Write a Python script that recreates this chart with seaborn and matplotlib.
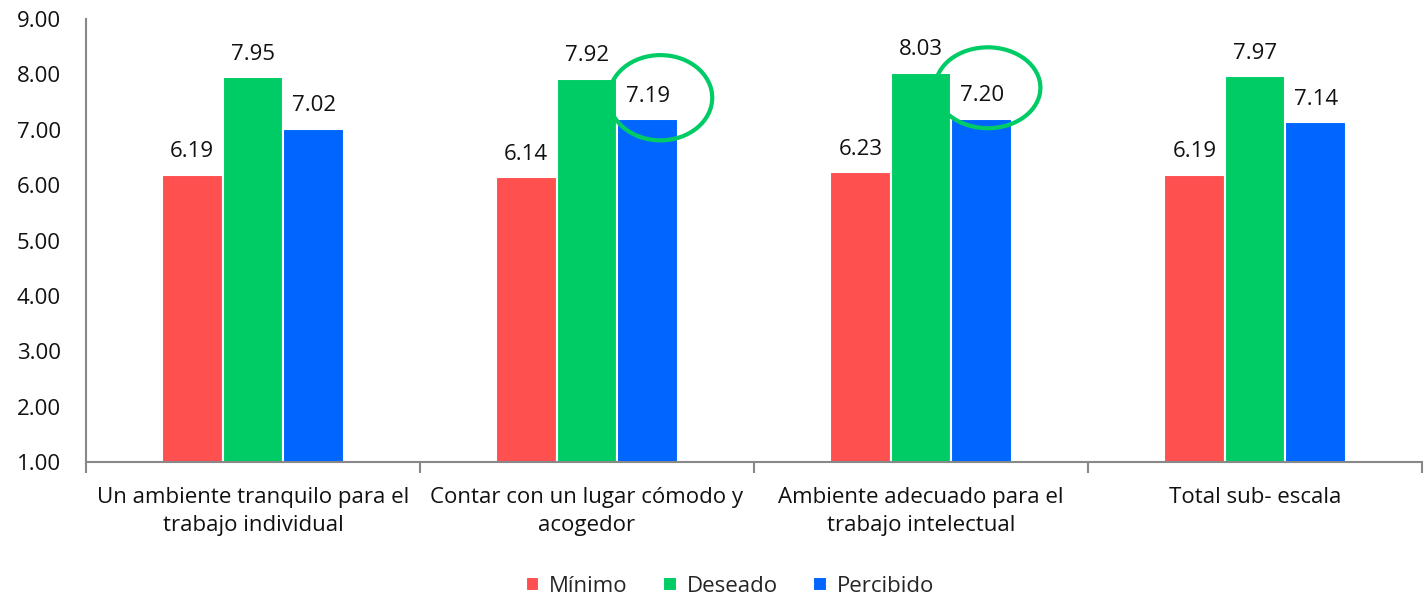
import matplotlib
matplotlib.use("Agg")
import matplotlib.pyplot as plt
import seaborn as sns
import pandas as pd
from matplotlib.patches import Ellipse
from matplotlib.ticker import FixedLocator, NullFormatter

categories = ["Un ambiente tranquilo para el\ntrabajo individual",
              "Contar con un lugar cómodo y\nacogedor",
              "Ambiente adecuado para el\ntrabajo intelectual",
              "Total sub- escala"]
series = ["Mínimo", "Deseado", "Percibido"]
minimo = [6.19, 6.14, 6.23, 6.19]
deseado = [7.95, 7.92, 8.03, 7.97]
percibido = [7.02, 7.19, 7.20, 7.14]
colors = ["#FF5050", "#00CC66", "#0066FF"]
yticks = [1, 2, 3, 4, 5, 6, 7, 8, 9]

rows = []
for s, vals in zip(series, [minimo, deseado, percibido]):
    for c, v in zip(categories, vals):
        rows.append({"cat": c, "serie": s, "valor": v})
df = pd.DataFrame(rows)

sns.set_theme(style="white")
plt.rcParams['font.family'] = ['Open Sans', 'DejaVu Sans']

FS = 16
fig = plt.figure(figsize=(14.28, 5.97), dpi=100)
ax = fig.add_axes([0.0602, 0.2261, 0.9356, 0.7419])

sns.barplot(data=df, x="cat", y="valor", hue="serie", palette=colors,
            width=0.545, ax=ax, edgecolor="white", linewidth=1.5,
            saturation=1, legend=True)

ax.set_ylim(1, 9)
ax.set_xlim(-0.5, 3.5)
ax.set_yticks(yticks)
ax.set_yticklabels([f"{t:.2f}" for t in yticks], fontsize=FS, color="#111111")
ax.tick_params(axis="y", length=0, pad=18)
ax.tick_params(axis="x", length=0, pad=18, labelsize=FS, labelcolor="#111111")
for lab in ax.get_xticklabels():
    lab.set_linespacing(1.45)
ax.xaxis.set_minor_locator(FixedLocator([-0.5, 0.5, 1.5, 2.5, 3.5]))
ax.xaxis.set_minor_formatter(NullFormatter())
ax.tick_params(axis="x", which="minor", length=8, width=1.5, color="#888888", direction="out", bottom=True)
ax.set_xlabel("")
ax.set_ylabel("")
for side in ["top", "right"]:
    ax.spines[side].set_visible(False)
for side in ["left", "bottom"]:
    ax.spines[side].set_color("#888888")
    ax.spines[side].set_linewidth(1.5)

for cont in ax.containers:
    ax.bar_label(cont, fmt="%.2f", padding=9, fontsize=FS, color="#111111")

# highlight ellipses around two Percibido labels
for idx, dx, dy, w, h in [(1, 0.04, 0.39, 0.31, 1.54), (2, 0.02, 0.56, 0.315, 1.46)]:
    xc = idx + 0.18 + dx
    yc = percibido[idx] + dy
    ax.add_patch(Ellipse((xc, yc), w, h, fill=False, edgecolor="#00CC66",
                         linewidth=3, clip_on=False, zorder=5))

leg = ax.legend(loc="center", bbox_to_anchor=(0.482, -0.28), ncol=3,
                frameon=False, fontsize=FS, handlelength=0.6, handleheight=0.6,
                handletextpad=0.45, columnspacing=1.6)

fig.savefig("out.png", dpi=100)
